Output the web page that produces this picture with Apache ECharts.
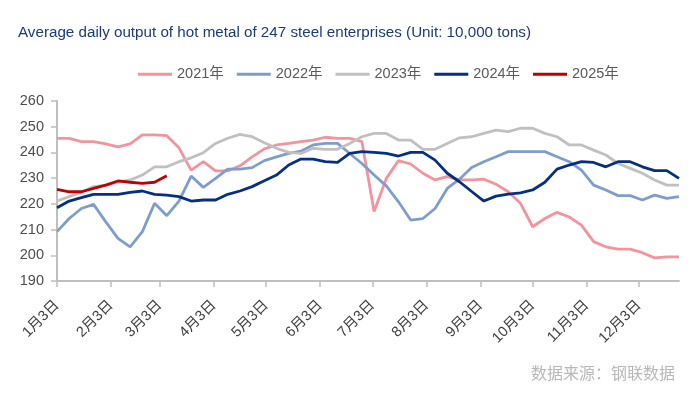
<!DOCTYPE html>
<html>
<head>
<meta charset="utf-8">
<script src="https://cdn.jsdelivr.net/npm/echarts@6/dist/echarts.min.js"></script>
<style>
  html, body { margin: 0; padding: 0; background: #fff; }
  #chart { width: 700px; height: 398px; }
</style>
</head>
<body>
<div id="chart"></div>
<script>
// x positions of the weekly readings, in days after 1月3日
var weekDays = [0, 7, 14, 21, 28, 35, 42, 49, 56, 63, 70, 77, 84, 91, 98, 105, 112, 119, 126, 133,
    140, 147, 154, 161, 168, 175, 182, 189, 196, 203, 210, 217, 224, 231, 238, 245, 252, 259, 266, 273,
    280, 287, 294, 301, 308, 315, 322, 329, 336, 343, 350, 357];

// month ticks (days after 1月3日) and their labels
var monthDays = [0, 31, 59, 90, 120, 151, 181, 212, 243, 273, 304, 334];
var monthLabels = ['1月3日', '2月3日', '3月3日', '4月3日', '5月3日', '6月3日',
    '7月3日', '8月3日', '9月3日', '10月3日', '11月3日', '12月3日'];

var years = ['2021年', '2022年', '2023年', '2024年', '2025年'];

var v2021 = [245.5, 245.5, 244.2, 244.2, 243.3, 242.2, 243.3, 246.8, 246.8, 246.5,
    241.8, 233.1, 236.4, 232.8, 232.8, 234.8, 238.3, 241.4, 242.9, 243.5,
    244.2, 244.8, 245.9, 245.5, 245.5, 244.2, 217, 229.9, 236.8, 235.5,
    231.9, 229.3, 230.6, 229.3, 229.3, 229.6, 227.6, 224.7, 220.2, 211.1,
    214.3, 216.7, 214.9, 211.7, 205.3, 203.3, 202.4, 202.4, 201, 199,
    199.4, 199.4];
var v2022 = [209.2, 214.3, 218.2, 219.8, 213, 206.6, 203.3, 209.2, 220.2, 215.4,
    221.1, 230.8, 226.4, 229.9, 233.5, 233.5, 234.1, 236.8, 238.3, 239.6,
    240.5, 242.9, 243.5, 243.5, 239.6, 235.7, 231.2, 227, 220.8, 213.7,
    214.3, 218.2, 226, 229.6, 234.1, 236.4, 238.3, 240.3, 240.3, 240.3,
    240.3, 238.3, 236.4, 233.1, 227.3, 225.4, 223.2, 223.2, 221.5, 223.4,
    222.1, 222.8];
var v2023 = [221.1, 222.8, 224.5, 226.7, 227.3, 228.4, 229.3, 231.2, 234.4, 234.4,
    236.4, 237.9, 239.9, 243.5, 245.5, 247, 246.1, 243.8, 241.6, 240,
    239.6, 241.6, 241.2, 241.2, 243.5, 246.1, 247.4, 247.4, 244.8, 244.8,
    241.2, 241.2, 243.5, 245.7, 246.1, 247.4, 248.7, 248.1, 249.4, 249.4,
    247.4, 246.1, 242.9, 242.9, 240.9, 239, 235.7, 233.8, 231.9, 229.3,
    227.3, 227.3];
var v2024 = [218.5, 221.1, 222.4, 223.7, 223.7, 223.7, 224.5, 225, 223.7, 223.4,
    222.8, 221.1, 221.5, 221.5, 223.7, 225, 226.7, 229, 231.2, 235.1,
    237.4, 237.4, 236.4, 236.1, 239.6, 240.3, 240, 239.6, 238.6, 240,
    240, 237, 231.9, 228.6, 224.8, 221.1, 223, 223.8, 224.3, 225.4,
    228.4, 233.5, 235.1, 236.4, 236.1, 234.4, 236.4, 236.4, 234.4, 232.9,
    232.9, 229.9];
var v2025 = [225.6, 224.7, 224.7, 226, 227.3, 228.9, 228.4, 228, 228.4, 230.9];

var colors = ['#f4939e', '#7f9dcc', '#c0c0c0', '#062f80', '#c00000'];

function toPoints(vals) {
    return vals.map(function (v, i) { return [weekDays[i], v]; });
}

var dom = document.getElementById('chart');
var myChart = echarts.init(dom, null, { renderer: 'canvas' });

var font = 'Liberation Sans, Arial, Noto Sans CJK SC, sans-serif';

var option = {
    animation: false,
    color: colors,
    textStyle: { fontFamily: font },
    title: {
        text: 'Average daily output of hot metal of 247 steel enterprises (Unit: 10,000 tons)',
        left: 18,
        top: 25,
        padding: 0,
        textStyle: { color: '#1d3a78', fontSize: 15.2, fontWeight: 'normal', fontFamily: font }
    },
    legend: {
        data: years,
        icon: 'rect',
        left: 133,
        top: 62,
        itemWidth: 34,
        itemHeight: 3,
        itemGap: 13,
        textStyle: { color: '#595959', fontSize: 14.5, fontFamily: font }
    },
    grid: { left: 57, right: 21, top: 101, bottom: 117, containLabel: false },
    xAxis: {
        type: 'value',
        min: 0,
        max: 357,
        axisLine: { show: true, lineStyle: { color: '#bfbfbf', width: 2 } },
        axisTick: { show: true, customValues: monthDays, length: 6, lineStyle: { color: '#bfbfbf', width: 1.5 } },
        axisLabel: {
            customValues: monthDays,
            formatter: function (v) { return monthLabels[monthDays.indexOf(v)]; },
            rotate: 45,
            color: '#404040',
            fontSize: 14.5,
            margin: 22
        },
        splitLine: { show: false }
    },
    yAxis: {
        type: 'value',
        min: 190,
        max: 260,
        interval: 10,
        axisLine: { show: true, lineStyle: { color: '#bfbfbf', width: 2 } },
        axisTick: { show: true, length: 6, lineStyle: { color: '#bfbfbf', width: 1.5 } },
        axisLabel: { color: '#4d4d4d', fontSize: 14.5, margin: 13 },
        splitLine: { show: false }
    },
    graphic: [{
        type: 'text',
        right: 25,
        top: 365,
        style: { text: '数据来源：钢联数据', fill: '#b8b8b8', fontSize: 16, fontFamily: 'Noto Sans CJK SC' }
    }],
    series: [v2021, v2022, v2023, v2024, v2025].map(function (vals, k) {
        return {
            name: years[k],
            type: 'line',
            symbol: 'none',
            data: toPoints(vals),
            lineStyle: { width: 2.8 }
        };
    })
};

if (option && typeof option === 'object') {
    myChart.setOption(option);
}
</script>
</body>
</html>
